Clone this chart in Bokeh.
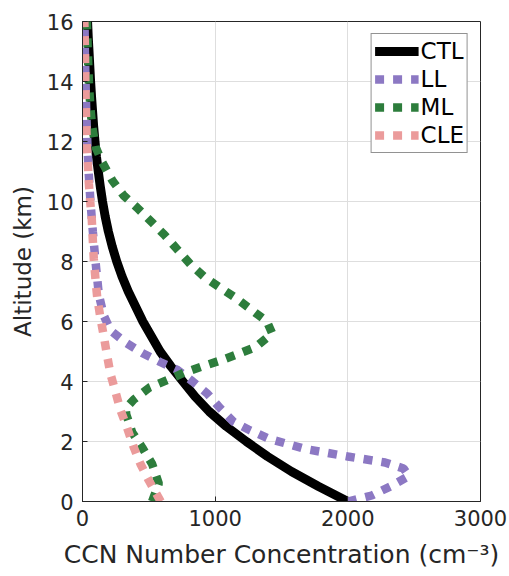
from bokeh.plotting import figure
from bokeh.models import Range1d, FixedTicker, Legend, LegendItem
from bokeh.embed import file_html
from bokeh.resources import INLINE

# ---- data ----
ctl_alt = [0, 0.5, 1.0, 1.5, 2.0, 2.5, 3.0, 3.5, 4.0, 4.5, 5.0, 5.5, 6.0, 6.5, 7.0, 7.5, 8.0, 8.5,
           9.0, 9.5, 10.0, 10.5, 11.0, 11.5, 12.0, 12.5, 13.0, 13.5, 14.0, 14.5, 15.0, 15.5, 16.0]
ctl_val = [2000, 1780, 1575, 1395, 1235, 1085, 955, 848, 757, 667, 585, 520, 455, 400, 345, 298, 258, 224,
           195, 171, 151, 134, 119, 105, 94, 84, 76, 68, 61, 55, 49, 43, 38]

ll_alt = [0, 0.2, 0.5, 0.85, 1.1, 1.3, 1.5, 1.75, 1.95, 2.1, 2.4, 2.65, 3.1, 3.6, 4.0, 4.4, 4.65, 4.95,
          5.3, 5.7, 6.2, 6.9, 8.0, 9.0, 10.0, 11.0, 12.0, 13.0, 14.0, 15.0, 16.0]
ll_val = [2000, 2180, 2320, 2460, 2420, 2280, 2000, 1680, 1520, 1400, 1250, 1140, 1040, 940, 830, 710, 585, 450,
          325, 212, 160, 123, 98, 78, 60, 46, 36, 28, 23, 18, 15]

ml_alt = [0, 0.6, 1.25, 1.8, 2.3, 2.9, 3.1, 3.4, 3.8, 4.05, 4.3, 4.5, 4.7, 4.92, 5.15, 5.6, 6.0, 6.4, 6.8,
          7.15, 7.5, 7.9, 8.4, 8.9, 9.3, 9.8, 10.2, 10.7, 11.3, 11.8, 12.5, 13.1, 14.0, 15.0, 16.0]
ml_val = [525, 575, 525, 450, 375, 330, 325, 387, 505, 640, 770, 900, 1040, 1175, 1305, 1430, 1390, 1270, 1150,
          1030, 915, 815, 715, 615, 525, 410, 310, 225, 150, 100, 73, 60, 48, 40, 33]

cle_alt = [0, 0.7, 1.25, 1.8, 2.45, 3.05, 3.65, 4.25, 4.85, 5.5, 6.1, 6.8, 7.4, 8.1, 8.7, 9.4, 10.0,
           10.6, 11.3, 11.9, 12.5, 13.1, 13.8, 14.4, 15.1, 16.0]
cle_val = [590, 500, 437, 387, 337, 286, 249, 211, 186, 161, 136, 111, 98, 85, 78, 70, 58,
           48, 40, 32, 29, 25, 22, 20, 18, 14]

series_names = ["CTL", "LL", "ML", "CLE"]
x_ticks = [0, 1000, 2000, 3000]
y_ticks = [0, 2, 4, 6, 8, 10, 12, 14, 16]

FONT = "DejaVu Sans"
INK = "#262626"

p = figure(width=508, height=575, output_backend="svg", toolbar_location=None,
           x_range=Range1d(0, 3000), y_range=Range1d(0, 16),
           min_border_left=82, min_border_right=28, min_border_top=21, min_border_bottom=74,
           x_axis_label="CCN Number Concentration (cm\u207b\u00b3)",
           y_axis_label="Altitude (km)")
p.background_fill_color = "white"
p.border_fill_color = "white"
p.outline_line_color = INK
p.outline_line_width = 1

for ax in p.xaxis + p.yaxis:
    ax.major_tick_in = 5
    ax.major_tick_out = 0
    ax.minor_tick_line_color = None
    ax.axis_line_color = INK
    ax.major_tick_line_color = INK
    ax.major_label_text_color = INK
    ax.major_label_text_font = FONT
    ax.major_label_text_font_size = "21px"
    ax.axis_label_text_color = INK
    ax.axis_label_text_font = FONT
    ax.axis_label_text_font_style = "normal"

p.xaxis.ticker = FixedTicker(ticks=x_ticks)
p.yaxis.ticker = FixedTicker(ticks=y_ticks)
p.xaxis.major_label_standoff = 8
p.yaxis.major_label_standoff = 9
p.xaxis.axis_label_standoff = 11
p.yaxis.axis_label_standoff = 8
p.xaxis.axis_label_text_font_size = "25px"
p.yaxis.axis_label_text_font_size = "23px"

p.xgrid.ticker = FixedTicker(ticks=x_ticks)
p.ygrid.ticker = FixedTicker(ticks=y_ticks)
p.xgrid.grid_line_color = "#dedede"
p.ygrid.grid_line_color = "#dedede"

r_ctl = p.line(ctl_val, ctl_alt, line_color="black", line_width=9, line_join="round")
r_ll = p.line(ll_val, ll_alt, line_color="#8c78c3", line_width=8.5, line_dash="9 9", line_cap="butt")
r_ml = p.line(ml_val, ml_alt, line_color="#2d7d3c", line_width=8.5, line_dash="9 9", line_cap="butt")
r_cle = p.line(cle_val, cle_alt, line_color="#eb9b9b", line_width=8.5, line_dash="9 9", line_cap="butt")

renderers = [r_ctl, r_ll, r_ml, r_cle]
legend = Legend(items=[LegendItem(label=n, renderers=[r]) for n, r in zip(series_names, renderers)],
                location="top_right", margin=12, padding=3, spacing=0,
                glyph_width=44, glyph_height=28, label_height=28, label_width=40,
                label_standoff=2, label_text_font=FONT, label_text_font_size="23px",
                label_text_color="black", border_line_color=INK, border_line_width=1,
                background_fill_color="white", background_fill_alpha=1.0)
p.add_layout(legend, "center")

open("out.html", "w").write(file_html(p, INLINE))
